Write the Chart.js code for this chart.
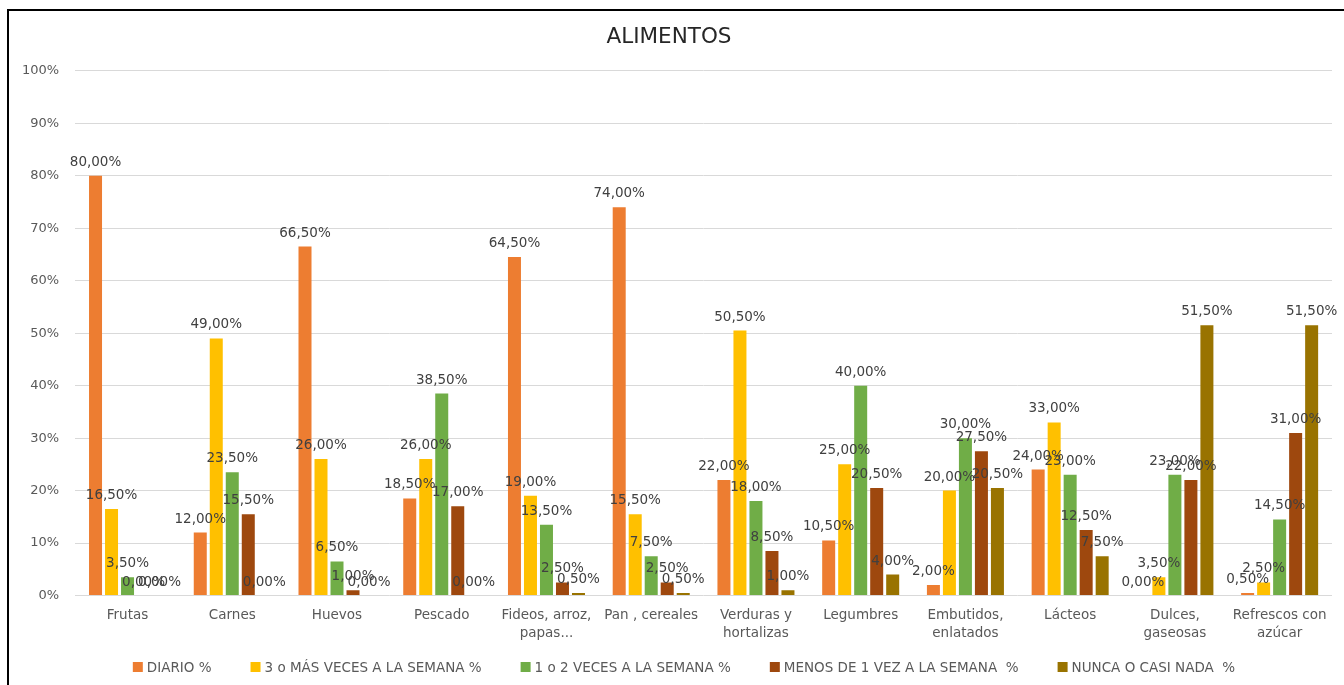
<!DOCTYPE html>
<html lang="es">
<head>
<meta charset="utf-8">
<title>Alimentos</title>
<script src="https://cdn.jsdelivr.net/npm/chart.js@4.4.1/dist/chart.umd.min.js"></script>
<style>
  html, body { margin: 0; padding: 0; background: #fff; overflow: hidden; }
  #wrap { position: relative; width: 1344px; height: 685px; }
  #marco {
    position: absolute; left: 7px; top: 9px; width: 2000px; height: 2000px;
    border-top: 2px solid #000; border-left: 2px solid #000; pointer-events: none;
  }
</style>
</head>
<body>
<div id="wrap">
  <canvas id="grafico" width="1344" height="685"></canvas>
  <div id="marco"></div>
</div>
<script>
// Categorías de alimentos (las etiquetas largas van en dos líneas)
const categorias = [
  'Frutas',
  'Carnes',
  'Huevos',
  'Pescado',
  ['Fideos, arroz,', 'papas...'],
  'Pan , cereales',
  ['Verduras y', 'hortalizas'],
  'Legumbres',
  ['Embutidos,', 'enlatados'],
  'Lácteos',
  ['Dulces,', 'gaseosas'],
  ['Refrescos con', 'azúcar']
];

// Porcentajes por frecuencia de consumo
const diario       = [80, 12, 66.5, 18.5, 64.5, 74, 22, 10.5, 2, 24, 0, 0.5];
const tresOMas     = [16.5, 49, 26, 26, 19, 15.5, 50.5, 25, 20, 33, 3.5, 2.5];
const unoODos      = [3.5, 23.5, 6.5, 38.5, 13.5, 7.5, 18, 40, 30, 23, 23, 14.5];
const menosDeUna   = [0, 15.5, 1, 17, 2.5, 2.5, 8.5, 20.5, 27.5, 12.5, 22, 31];
const nunca        = [0, 0, 0, 0, 0.5, 0.5, 1, 4, 20.5, 7.5, 51.5, 51.5];

const nombresSeries = [
  'DIARIO %',
  '3 o MÁS VECES A LA SEMANA %',
  '1 o 2 VECES A LA SEMANA %',
  'MENOS DE 1 VEZ A LA SEMANA  %',
  'NUNCA O CASI NADA  %'
];
const colores = ['#ED7D31', '#FFC000', '#70AD47', '#9E480E', '#997300'];

const ticksY = [0, 10, 20, 30, 40, 50, 60, 70, 80, 90, 100];

const fuente = 'DejaVu Sans';
const grisTexto = '#595959';

// 80 -> "80,00%"
function formatoPct(v) {
  return v.toFixed(2).replace('.', ',') + '%';
}

// Etiquetas de valor encima de cada barra
const etiquetasValor = {
  id: 'etiquetasValor',
  afterDatasetsDraw(chart) {
    const ctx = chart.ctx;
    ctx.save();
    ctx.font = '13.5px "' + fuente + '"';
    ctx.fillStyle = '#404040';
    ctx.textAlign = 'center';
    ctx.textBaseline = 'alphabetic';
    chart.data.datasets.forEach((ds, i) => {
      const meta = chart.getDatasetMeta(i);
      meta.data.forEach((barra, j) => {
        ctx.fillText(formatoPct(ds.data[j]), barra.x, barra.y - 10);
      });
    });
    ctx.restore();
  }
};

// Leyenda inferior dibujada a mano (cuadro 10px + texto, separación amplia)
const leyendaInferior = {
  id: 'leyendaInferior',
  afterDraw(chart) {
    const ctx = chart.ctx;
    const caja = 10, hueco = 4, sep = 39, y = 667;
    ctx.save();
    ctx.font = '13.5px "' + fuente + '"';
    ctx.textBaseline = 'middle';
    ctx.textAlign = 'left';
    const anchos = nombresSeries.map(t => ctx.measureText(t).width);
    const total = anchos.reduce((s, w) => s + caja + hueco + w, 0) + sep * (nombresSeries.length - 1);
    let x = chart.width / 2 + 12 - total / 2;
    nombresSeries.forEach((t, i) => {
      ctx.fillStyle = colores[i];
      ctx.fillRect(x, y - caja / 2, caja, caja);
      ctx.fillStyle = grisTexto;
      ctx.fillText(t, x + caja + hueco, y + 1);
      x += caja + hueco + anchos[i] + sep;
    });
    ctx.restore();
  }
};

const series = [diario, tresOMas, unoODos, menosDeUna, nunca];

new Chart(document.getElementById('grafico'), {
  type: 'bar',
  data: {
    labels: categorias,
    datasets: series.map((d, i) => ({
      label: nombresSeries[i],
      data: d,
      backgroundColor: colores[i],
      categoryPercentage: 0.764,
      barPercentage: 0.8125
    }))
  },
  options: {
    responsive: false,
    animation: false,
    layout: { padding: { left: 6, right: 12, top: 10, bottom: 31 } },
    plugins: {
      legend: { display: false },
      tooltip: { enabled: false },
      title: {
        display: true,
        text: 'ALIMENTOS',
        color: '#262626',
        font: { family: fuente, size: 21.5, weight: 'normal' },
        padding: { top: 15, bottom: 20 }
      }
    },
    scales: {
      x: {
        grid: { display: false, drawTicks: false, tickLength: 0 },
        border: { display: false },
        ticks: {
          color: grisTexto,
          font: { family: fuente, size: 13.5, lineHeight: 1.35 },
          padding: 11,
          maxRotation: 0,
          autoSkip: false
        }
      },
      y: {
        min: 0,
        max: 100,
        afterBuildTicks(axis) {
          axis.ticks = ticksY.map(v => ({ value: v }));
        },
        grid: { color: '#d9d9d9', drawTicks: false, tickLength: 0 },
        border: { display: false },
        ticks: {
          color: grisTexto,
          font: { family: fuente, size: 13 },
          padding: 16,
          callback: v => v + '%'
        }
      }
    }
  },
  plugins: [etiquetasValor, leyendaInferior]
});
</script>
</body>
</html>
